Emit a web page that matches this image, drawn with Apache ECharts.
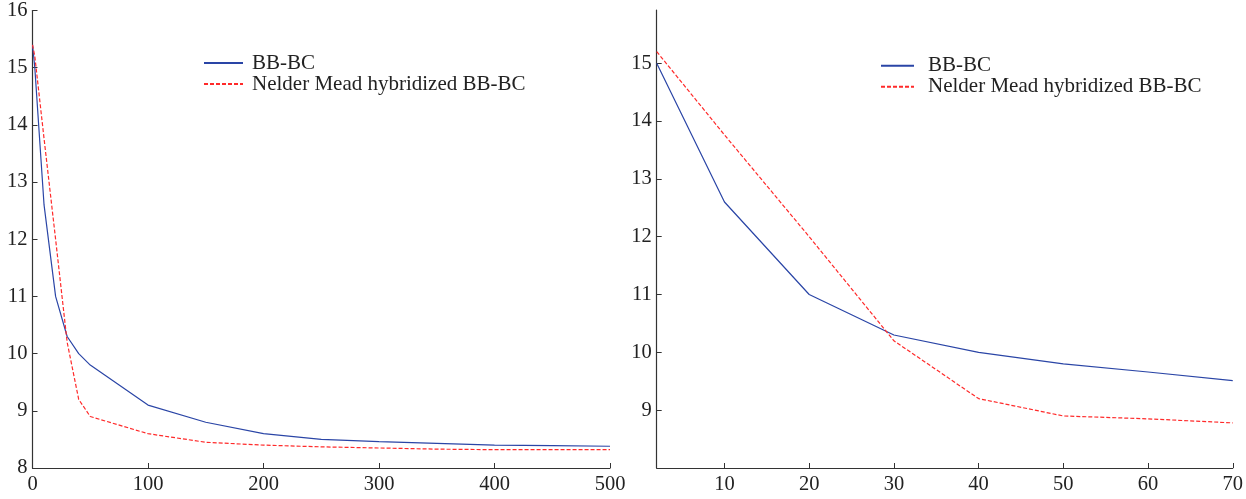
<!DOCTYPE html>
<html>
<head>
<meta charset="utf-8">
<script src="https://cdn.jsdelivr.net/npm/echarts@6/dist/echarts.min.js"></script>
<style>
html,body{margin:0;padding:0;background:#fff;}
#c{width:1246px;height:499px;}
</style>
</head>
<body>
<div id="c"></div>
<script>
// ---- data ----
const seriesNames = ['BB-BC', 'Nelder Mead hybridized BB-BC'];
const leftX = [0, 2, 10, 20, 30, 40, 50, 100, 150, 200, 250, 300, 350, 400, 450, 500];
const leftBBBC = [15.4, 15.0, 12.6, 11.0, 10.3, 10.0, 9.8, 9.1, 8.8, 8.6, 8.5, 8.46, 8.43, 8.4, 8.39, 8.38];
const leftNM = [15.4, 15.2, 13.76, 12.0, 10.2, 9.2, 8.9, 8.6, 8.45, 8.4, 8.37, 8.35, 8.33, 8.32, 8.32, 8.32];
const rightX = [2, 10, 20, 30, 40, 50, 60, 70];
const rightBBBC = [15.0, 12.6, 11.0, 10.3, 10.0, 9.8, 9.66, 9.51];
const rightNM = [15.2, 13.76, 12.0, 10.2, 9.2, 8.9, 8.85, 8.78];
const leftXTicks = [0, 100, 200, 300, 400, 500];
const leftYTicks = [8, 9, 10, 11, 12, 13, 14, 15, 16];
const rightXTicks = [10, 20, 30, 40, 50, 60, 70];
const rightYTicks = [9, 10, 11, 12, 13, 14, 15];

const pairs = (xs, ys) => xs.map((x, i) => [x, ys[i]]);

const FONT = 'Liberation Serif';
const AX = '#333';
const BLUE = '#2a45a6';
const RED = '#ff2a2a';

function xAxis(gi, min, max, ticks) {
  return {
    type: 'value', gridIndex: gi, min: min, max: max,
    splitLine: {show: false},
    axisLine: {lineStyle: {color: AX, width: 1.2}},
    axisTick: {inside: true, length: 5, customValues: ticks, lineStyle: {color: AX}},
    axisLabel: {customValues: ticks, color: '#222', fontFamily: FONT, fontSize: 20.5, margin: 6}
  };
}
function yAxis(gi, min, max, ticks) {
  return {
    type: 'value', gridIndex: gi, min: min, max: max,
    splitLine: {show: false},
    axisLine: {show: true, lineStyle: {color: AX, width: 1.2}},
    axisTick: {show: true, inside: true, length: 5, customValues: ticks, lineStyle: {color: AX}},
    axisLabel: {customValues: ticks, color: '#222', fontFamily: FONT, fontSize: 20.5, margin: 5}
  };
}
function line(name, gi, data, color, dashed) {
  return {
    type: 'line', name: name, xAxisIndex: gi, yAxisIndex: gi,
    data: data, symbol: 'none', animation: false,
    lineStyle: {color: color, width: 1.2, type: dashed ? [4, 2] : 'solid'},
    itemStyle: {color: color}
  };
}
function legend(left, top, w, gap) {
  return {
    left: left, top: top, orient: 'vertical', data: seriesNames,
    itemWidth: w, itemHeight: 14, itemGap: 0,
    itemStyle: {opacity: 0},
    textStyle: {fontFamily: FONT, fontSize: 21, color: '#222', lineHeight: 19.4, padding: [0, 0, 0, gap]},
    selectedMode: false, padding: 0
  };
}

const chart = echarts.init(document.getElementById('c'), null, {renderer: 'canvas'});
chart.setOption({
  backgroundColor: '#fff',
  animation: false,
  grid: [
    {left: 32.5, top: 10, width: 577.5, height: 458},
    {left: 656.7, top: 10, width: 577.8, height: 458}
  ],
  xAxis: [xAxis(0, 0, 500, leftXTicks), xAxis(1, 2, 70, rightXTicks)],
  yAxis: [yAxis(0, 8, 16, leftYTicks), yAxis(1, 8, 15.92, rightYTicks)],
  legend: [legend(203, 52.6, 39, 4), legend(880, 55.3, 33, 9)],
  series: [
    line(seriesNames[0], 0, pairs(leftX, leftBBBC), BLUE, false),
    line(seriesNames[1], 0, pairs(leftX, leftNM), RED, true),
    line(seriesNames[0], 1, pairs(rightX, rightBBBC), BLUE, false),
    line(seriesNames[1], 1, pairs(rightX, rightNM), RED, true)
  ]
});
</script>
</body>
</html>
